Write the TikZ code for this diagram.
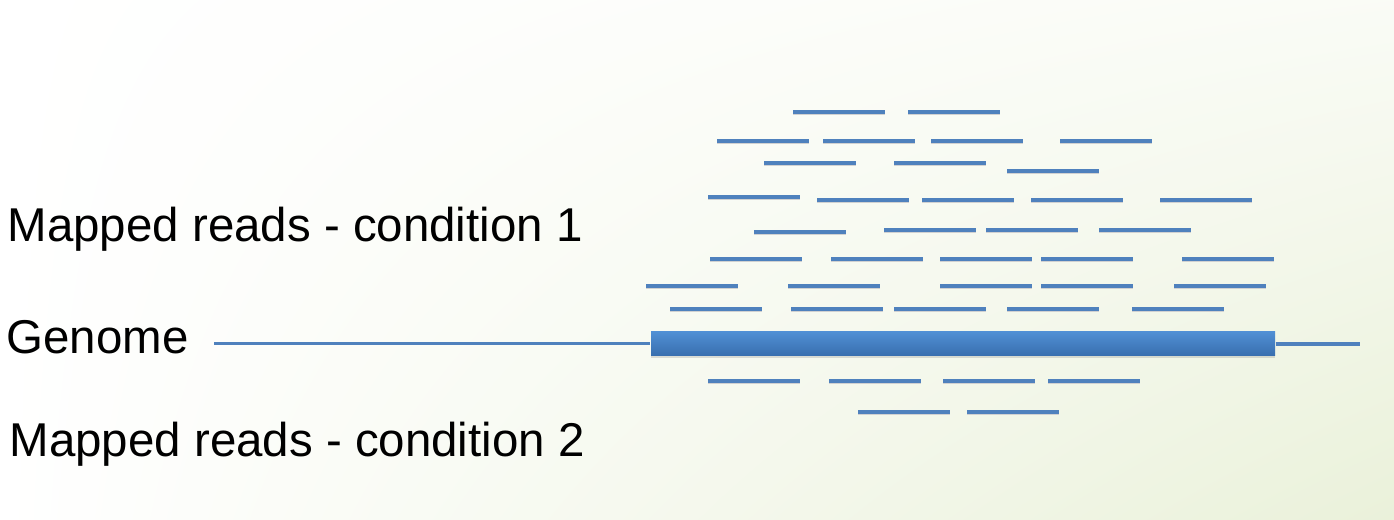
\documentclass[tikz,border=0pt]{standalone}
\usepackage{fontspec}
\setmainfont{Liberation Sans}
\usetikzlibrary{shapes,arrows,positioning,shadows,shadings}
\definecolor{readblue}{RGB}{79,129,189}
\definecolor{bartop}{RGB}{80,143,212}
\definecolor{barbot}{RGB}{56,110,174}
\definecolor{bggreen}{RGB}{234,241,218}
\tikzstyle{lbl} = [anchor=base west, inner sep=0pt, font=\fontsize{13.5}{16}\selectfont]
\tikzstyle{read} = [draw=readblue, line width=0.4mm, preaction={draw=black!18, line width=0.4mm, transform canvas={yshift=-0.15mm}}]
\tikzstyle{line} = [draw=readblue, line width=0.3mm]
\tikzstyle{exon} = [rectangle, inner sep=0pt, minimum width=62.4mm, minimum height=2.4mm, top color=bartop, bottom color=barbot, drop shadow={opacity=0.25, shadow xshift=0mm, shadow yshift=-0.25mm}]

\begin{document}
\begin{tikzpicture}[x=0.1mm, y=-0.1mm]
			\shade [upper left=white, lower left=white, upper right=bggreen!25!white, lower right=bggreen] (0,0) rectangle (1394,520);
			\useasboundingbox (0,0) rectangle (1394,520);

			\node [lbl] (cond1) at (7, 242) {Mapped reads - condition 1};
			\node [lbl] (genome) at (6, 354) {Genome};
			\node [lbl] (cond2) at (9, 457) {Mapped reads - condition 2};

			\coordinate (gstart) at (214, 344);
			\coordinate (gend) at (1360, 344);
			\node [exon] (gene) at (963, 344) {};

			\path [line] (gstart) -- (gene.west);
			\path [line, line width=0.4mm] (gene.east) -- (gend);

			% reads, condition 1
			\foreach \x/\y in {793/112, 908/112,
				717/141, 823/141, 931/141, 1060/141,
				764/163, 894/163, 1007/171,
				708/197, 817/200, 922/200, 1031/200, 1160/200,
				754/232, 884/230, 986/230, 1099/230,
				710/259, 831/259, 940/259, 1041/259, 1182/259,
				646/286, 788/286, 940/286, 1041/286, 1174/286,
				670/309, 791/309, 894/309, 1007/309, 1132/309}
				\path [read] (\x, \y) -- ++(92, 0);

			% reads, condition 2
			\foreach \x/\y in {708/381, 829/381, 943/381, 1048/381,
				858/412, 967/412}
				\path [read] (\x, \y) -- ++(92, 0);
		\end{tikzpicture}
\end{document}
